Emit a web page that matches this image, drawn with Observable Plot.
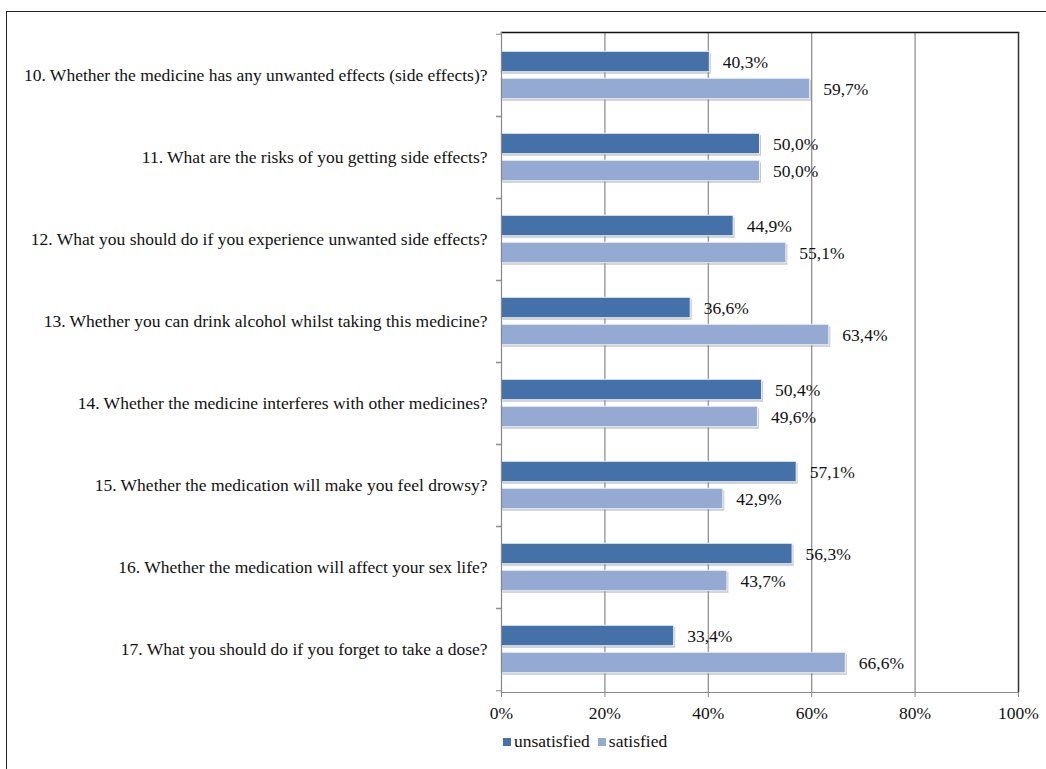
<!DOCTYPE html>
<html>
<head>
<meta charset="utf-8">
<script src="https://cdn.jsdelivr.net/npm/d3@7"></script>
<script src="https://cdn.jsdelivr.net/npm/@observablehq/plot@0.6"></script>
<style>
  html, body { margin: 0; padding: 0; background: #fff; }
  body { width: 1046px; height: 769px; overflow: hidden; position: relative; font-family: "Liberation Serif", "Times New Roman", serif; }
  #frame { position: absolute; left: 6px; top: 11px; width: 1100px; height: 800px; border: 1.5px solid #222; box-sizing: border-box; }
  #chart { position: absolute; left: 0; top: 0; }
  #legend { position: absolute; left: 503px; top: 731px; font-size: 17.5px; color: #111; display: flex; align-items: center; }
  #legend .item { display: flex; align-items: center; margin-right: 8px; }
  #legend .sw { width: 8px; height: 8px; margin-right: 3px; display: inline-block; }
</style>
</head>
<body>
<div id="frame"></div>
<div id="chart"></div>
<div id="legend"></div>
<script>
const questions = [
  "10. Whether the medicine has any unwanted effects (side effects)?",
  "11. What are the risks of you getting side effects?",
  "12. What you should do if you experience unwanted side effects?",
  "13. Whether you can drink alcohol whilst taking this medicine?",
  "14. Whether the medicine interferes with other medicines?",
  "15. Whether the medication will make you feel drowsy?",
  "16. Whether the medication will affect your sex life?",
  "17. What you should do if you forget to take a dose?"
];
const seriesNames = ["unsatisfied", "satisfied"];
const unsatisfied = [40.3, 50.0, 44.9, 36.6, 50.4, 57.1, 56.3, 33.4];
const satisfied = [59.7, 50.0, 55.1, 63.4, 49.6, 42.9, 43.7, 66.6];
const xTicks = [0, 0.2, 0.4, 0.6, 0.8, 1.0];
const colors = ["#4472A8", "#95AAD3"];

const rows = [];
questions.forEach((q, i) => {
  rows.push({question: q, series: seriesNames[0], value: unsatisfied[i] / 100});
  rows.push({question: q, series: seriesNames[1], value: satisfied[i] / 100});
});
const unsatRows = rows.filter(d => d.series === seriesNames[0]);
const satRows = rows.filter(d => d.series === seriesNames[1]);

const fmt = v => (v * 100).toFixed(1).replace(".", ",") + "%";
const FONT = "\"Liberation Serif\", \"Times New Roman\", serif";
const FS = 17.5;

const step = 82.5;
const barH = 21;
const outer = 17.25;
const inner = step - outer - barH;

const chart = Plot.plot({
  width: 1046,
  height: 722,
  marginLeft: 501,
  marginRight: 28,
  marginTop: 32,
  marginBottom: 30,
  style: {fontFamily: FONT, fontSize: FS + "px", color: "#111", background: "transparent"},
  x: {domain: [0, 1]},
  y: {domain: questions, padding: 0},
  color: {domain: seriesNames, range: colors},
  marks: [
    Plot.gridX(xTicks.slice(1, 5), {stroke: "#888", strokeOpacity: 1, strokeWidth: 1.2}),
    Plot.barX(unsatRows, {x: "value", y: "question", fill: "#888", fillOpacity: 0.45, insetTop: outer, insetBottom: inner, dx: 1.5, dy: 2}),
    Plot.barX(satRows, {x: "value", y: "question", fill: "#888", fillOpacity: 0.45, insetTop: inner, insetBottom: outer, dx: 1.5, dy: 2}),
    Plot.barX(unsatRows, {x: "value", y: "question", fill: "series", stroke: "#eef2f8", strokeWidth: 1, insetTop: outer, insetBottom: inner}),
    Plot.barX(satRows, {x: "value", y: "question", fill: "series", stroke: "#eef2f8", strokeWidth: 1, insetTop: inner, insetBottom: outer}),
    Plot.text(unsatRows, {x: "value", y: "question", text: d => fmt(d.value), dx: 13, dy: -13.5, textAnchor: "start", fontSize: FS, fontFamily: FONT, fill: "#111"}),
    Plot.text(satRows, {x: "value", y: "question", text: d => fmt(d.value), dx: 13, dy: 13.5, textAnchor: "start", fontSize: FS, fontFamily: FONT, fill: "#111"}),
    Plot.frame({anchor: "top", stroke: "#111", strokeWidth: 1.5}),
    Plot.ruleX([1], {stroke: "#333", strokeWidth: 1.5}),
    Plot.ruleX([0], {stroke: "#888", strokeWidth: 1.2}),
    Plot.frame({anchor: "bottom", stroke: "#888", strokeWidth: 1.2}),
    Plot.axisX({ticks: xTicks, tickFormat: d => Math.round(d * 100) + "%", tickSize: 5, tickPadding: 9, stroke: "#888", label: null, fontSize: FS, fontFamily: FONT}),
    Plot.axisY({tickSize: 0, tickPadding: 14, label: null, fontSize: FS, fontFamily: FONT}),
    Plot.axisY({tickSize: 5, text: null, dy: -step / 2, stroke: "#888", label: null}),
    Plot.axisY({tickSize: 5, text: null, dy: step / 2, stroke: "#888", label: null})
  ]
});
document.getElementById("chart").appendChild(chart);

const legend = document.getElementById("legend");
seriesNames.forEach((s, i) => {
  const item = document.createElement("span");
  item.className = "item";
  const sw = document.createElement("span");
  sw.className = "sw";
  sw.style.background = colors[i];
  item.appendChild(sw);
  item.appendChild(document.createTextNode(s));
  legend.appendChild(item);
});
</script>
</body>
</html>
